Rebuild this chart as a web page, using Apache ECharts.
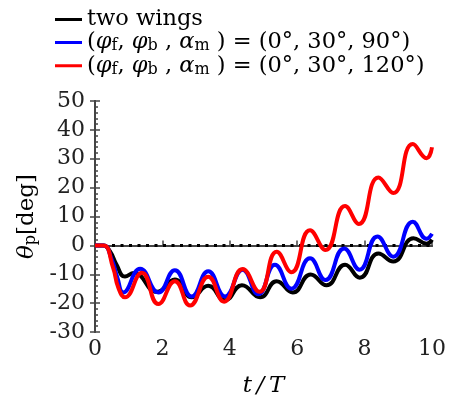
<!DOCTYPE html>
<html>
<head>
<meta charset="utf-8">
<script src="https://cdn.jsdelivr.net/npm/echarts@6/dist/echarts.min.js"></script>
<style>
  html, body { margin: 0; padding: 0; background: #fff; }
  #chart { width: 456px; height: 403px; }
</style>
</head>
<body>
<div id="chart"></div>
<script>
// 数据 (t/T, θp)
var tBlack = [0, 0.25, 0.45, 0.64, 0.89, 1.15, 1.84, 2.37, 2.87, 3.36, 3.86, 4.36, 4.9, 5.39, 5.87, 6.4, 6.87, 7.42, 7.86, 8.41, 8.85, 9.45, 9.84, 10];
var vBlack = [0, 0, -2.2, -6.7, -10.8, -9.6, -16.1, -11.8, -18, -14, -19, -13.8, -18, -12.4, -16.3, -10.1, -13.8, -6.7, -11.2, -2.8, -5.6, 2.5, 0.6, 2];

var tBlue = [0, 0.25, 0.5, 0.66, 0.84, 1.34, 1.88, 2.37, 2.87, 3.36, 3.86, 4.38, 4.85, 5.34, 5.83, 6.38, 6.84, 7.39, 7.85, 8.38, 8.85, 9.43, 9.84, 10];
var vBlue = [0, 0, -5, -11, -16.3, -8.1, -16.3, -8.6, -17.7, -9, -17.7, -8.4, -16.9, -6.7, -15, -4.5, -12, -1.1, -8.4, 3.1, -3.9, 8.2, 2.3, 4];

var tRed = [0, 0.25, 0.54, 0.69, 0.89, 1.39, 1.88, 2.37, 2.82, 3.36, 3.83, 4.38, 4.88, 5.39, 5.83, 6.38, 6.84, 7.42, 7.83, 8.41, 8.85, 9.43, 9.84, 10];
var vRed = [0, 0, -7.9, -14.6, -18, -9.5, -20.3, -12.4, -20.8, -10.9, -19.5, -8.2, -16.1, -2.2, -9.3, 5.2, -1.6, 13.6, 7.4, 23.5, 18.1, 35.1, 30.2, 34];

var tZero = [0, 10];
var vZero = [0, 0];

var names = ["two wings", "(φf, φb, αm) = (0°, 30°, 90°)", "(φf, φb, αm) = (0°, 30°, 120°)"];
var legendRich = [
  "{m|two wings}",
  "{m|(}{i|φ}{s|f}{m|, }{i|φ}{s|b}{m| , }{i|α}{s|m}{m| ) = (0°, 30°, 90°)}",
  "{m|(}{i|φ}{s|f}{m|, }{i|φ}{s|b}{m| , }{i|α}{s|m}{m| ) = (0°, 30°, 120°)}"
];

function pairs(t, v) {
  return t.map(function (x, i) { return [x, v[i]]; });
}

var serif = "DejaVu Serif";

var myChart = echarts.init(document.getElementById("chart"));

var option = {
  animation: false,
  textStyle: { fontFamily: serif },
  legend: {
    orient: "vertical",
    left: 50,
    top: 3,
    itemWidth: 27,
    itemHeight: 3,
    itemGap: 0,
    icon: "rect",
    data: names,
    formatter: function (name) {
      return legendRich[names.indexOf(name)];
    },
    textStyle: {
      rich: {
        m: { fontFamily: serif, fontSize: 22.5, lineHeight: 23.5, color: "#000" },
        i: { fontFamily: serif, fontSize: 22.5, lineHeight: 23.5, fontStyle: "italic", color: "#000" },
        s: { fontFamily: serif, fontSize: 16, lineHeight: 10, verticalAlign: "bottom", color: "#000" }
      }
    }
  },
  grid: {
    left: 95,
    right: 24,
    top: 101,
    bottom: 66
  },
  xAxis: [
    {
      type: "value",
      min: 0,
      max: 10,
      interval: 2,
      name: "t\u2009/\u2009T",
      nameLocation: "middle",
      nameGap: 43,
      nameTextStyle: { fontFamily: serif, fontSize: 23, fontStyle: "italic", color: "#000" },
      axisLine: { lineStyle: { color: "#444", width: 2 } },
      axisTick: { inside: true, length: 5, lineStyle: { color: "#444", width: 1.5 } },
      axisLabel: { fontFamily: serif, fontSize: 22, color: "#222", margin: 6 },
      splitLine: { show: false }
    },
    {
      type: "value",
      position: "top",
      min: 0,
      max: 10,
      interval: 2,
      axisLine: { lineStyle: { color: "#444", width: 2 } },
      axisTick: { show: false },
      axisLabel: { show: false },
      splitLine: { show: false }
    }
  ],
  yAxis: [
    {
      type: "value",
      min: -30,
      max: 50,
      interval: 10,
      name: "{a|θ}{b|p}{c|[deg]}",
      nameLocation: "middle",
      nameRotate: 90,
      nameGap: 55,
      nameTextStyle: {
        rich: {
          a: { fontFamily: serif, fontSize: 23, lineHeight: 24, fontStyle: "italic", color: "#000" },
          b: { fontFamily: serif, fontSize: 16, lineHeight: 10, verticalAlign: "bottom", color: "#000" },
          c: { fontFamily: serif, fontSize: 23, lineHeight: 24, color: "#000" }
        }
      },
      axisLine: { show: true, lineStyle: { color: "#444", width: 2 } },
      axisTick: { show: true, inside: true, length: 5, lineStyle: { color: "#444", width: 1.5 } },
      minorTick: { show: true, splitNumber: 5, length: 3, lineStyle: { color: "#444", width: 1.5 } },
      axisLabel: { fontFamily: serif, fontSize: 22, color: "#222", margin: 10 },
      splitLine: { show: false }
    },
    {
      type: "value",
      position: "right",
      min: -30,
      max: 50,
      interval: 10,
      axisLine: { show: true, lineStyle: { color: "#444", width: 2 } },
      axisTick: { show: true, inside: true, length: 5, lineStyle: { color: "#444", width: 1.5 } },
      axisLabel: { show: false },
      splitLine: { show: false }
    }
  ],
  series: [
    {
      name: "zero",
      type: "line",
      data: pairs(tZero, vZero),
      symbol: "none",
      silent: true,
      lineStyle: { color: "#000", width: 3, type: [3, 5.5], cap: "butt" },
      z: 1
    },
    {
      name: names[0],
      type: "line",
      data: pairs(tBlack, vBlack),
      symbol: "none",
      smooth: 0.5,
      color: "#000",
      lineStyle: { color: "#000", width: 4 },
      z: 2
    },
    {
      name: names[1],
      type: "line",
      data: pairs(tBlue, vBlue),
      symbol: "none",
      smooth: 0.5,
      color: "#0000ff",
      lineStyle: { color: "#0000ff", width: 4 },
      z: 3
    },
    {
      name: names[2],
      type: "line",
      data: pairs(tRed, vRed),
      symbol: "none",
      smooth: 0.5,
      color: "#ff0000",
      lineStyle: { color: "#ff0000", width: 4 },
      z: 4
    }
  ]
};

myChart.setOption(option);
window.addEventListener("resize", myChart.resize);
</script>
</body>
</html>
